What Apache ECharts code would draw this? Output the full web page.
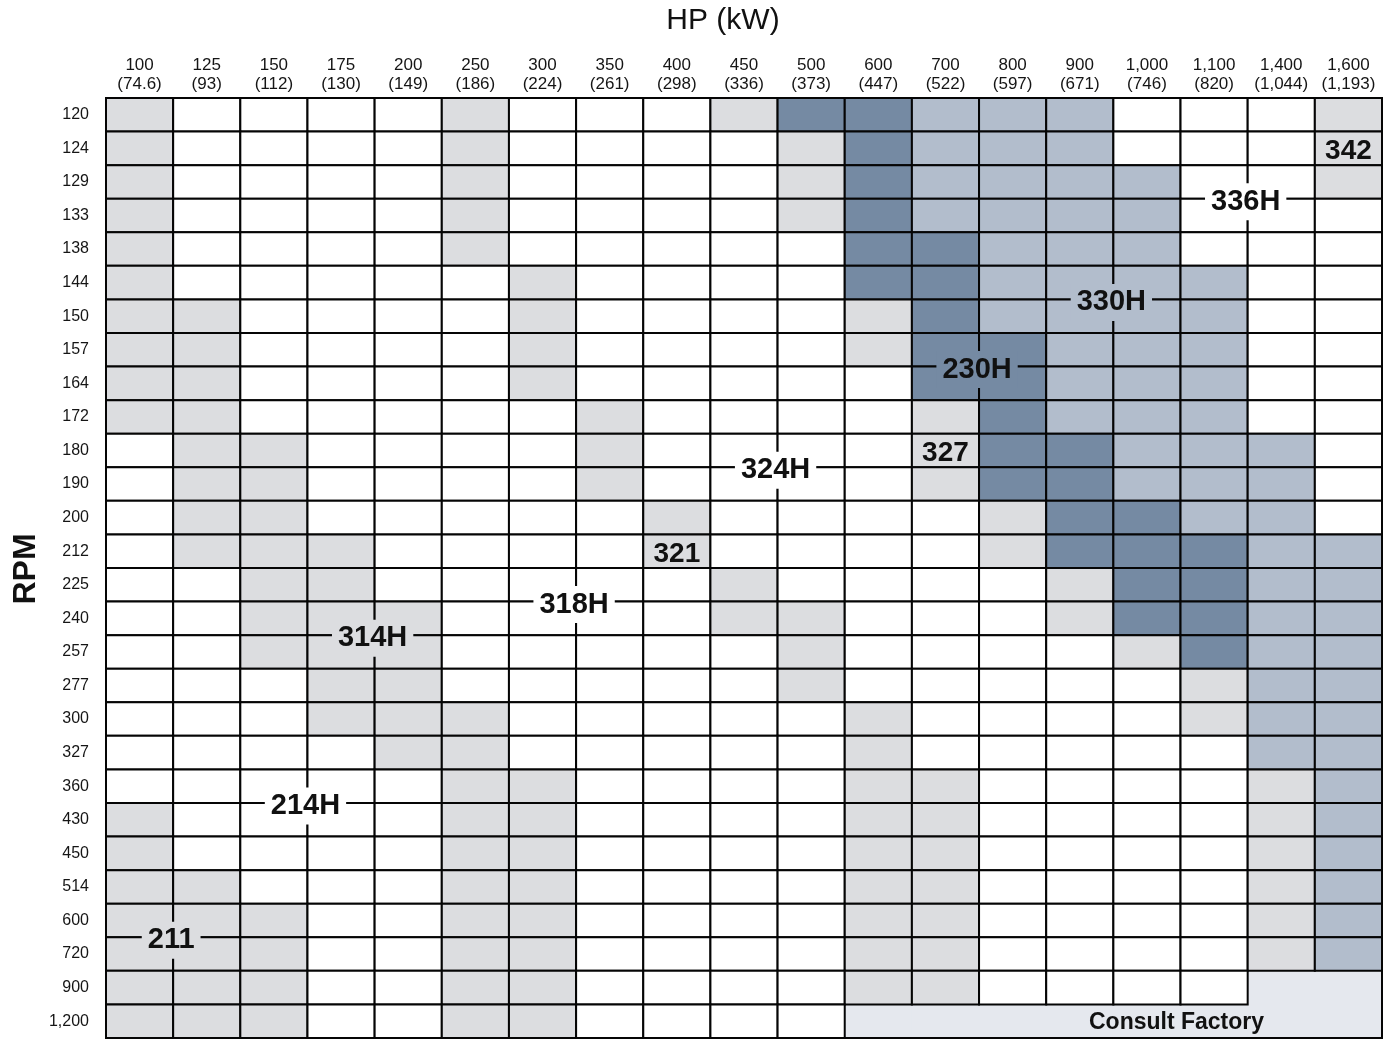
<!DOCTYPE html>
<html><head><meta charset="utf-8">
<script src="https://cdn.jsdelivr.net/npm/echarts/dist/echarts.min.js"></script>
<style>html,body{margin:0;padding:0;background:#fff}#c{width:1393px;height:1040px}</style>
</head><body><div id="c"></div>
<script>
// ---- data ----
const hpLabels = ['100','125','150','175','200','250','300','350','400','450','500','600','700','800','900','1,000','1,100','1,400','1,600'];
const kwLabels = ['74.6','93','112','130','149','186','224','261','298','336','373','447','522','597','671','746','820','1,044','1,193'];
const rpmLabels = ['120','124','129','133','138','144','150','157','164','172','180','190','200','212','225','240','257','277','300','327','360','430','450','514','600','720','900','1,200'];
// 0 = white, 1 = gray, 2 = light blue, 3 = dark blue, 4 = consult factory
const cellClass = [
  [1,0,0,0,0,1,0,0,0,1,3,3,2,2,2,0,0,0,1],
  [1,0,0,0,0,1,0,0,0,0,1,3,2,2,2,0,0,0,1],
  [1,0,0,0,0,1,0,0,0,0,1,3,2,2,2,2,0,0,1],
  [1,0,0,0,0,1,0,0,0,0,1,3,2,2,2,2,0,0,0],
  [1,0,0,0,0,1,0,0,0,0,0,3,3,2,2,2,0,0,0],
  [1,0,0,0,0,0,1,0,0,0,0,3,3,2,2,2,2,0,0],
  [1,1,0,0,0,0,1,0,0,0,0,1,3,2,2,2,2,0,0],
  [1,1,0,0,0,0,1,0,0,0,0,1,3,3,2,2,2,0,0],
  [1,1,0,0,0,0,1,0,0,0,0,0,3,3,2,2,2,0,0],
  [1,1,0,0,0,0,0,1,0,0,0,0,1,3,2,2,2,0,0],
  [0,1,1,0,0,0,0,1,0,0,0,0,1,3,3,2,2,2,0],
  [0,1,1,0,0,0,0,1,0,0,0,0,1,3,3,2,2,2,0],
  [0,1,1,0,0,0,0,0,1,0,0,0,0,1,3,3,2,2,0],
  [0,1,1,1,0,0,0,0,1,0,0,0,0,1,3,3,3,2,2],
  [0,0,1,1,0,0,0,0,0,1,0,0,0,0,1,3,3,2,2],
  [0,0,1,1,1,0,0,0,0,1,1,0,0,0,1,3,3,2,2],
  [0,0,1,1,1,0,0,0,0,0,1,0,0,0,0,1,3,2,2],
  [0,0,0,1,1,0,0,0,0,0,1,0,0,0,0,0,1,2,2],
  [0,0,0,1,1,1,0,0,0,0,0,1,0,0,0,0,1,2,2],
  [0,0,0,0,1,1,0,0,0,0,0,1,0,0,0,0,0,2,2],
  [0,0,0,0,0,1,1,0,0,0,0,1,1,0,0,0,0,1,2],
  [1,0,0,0,0,1,1,0,0,0,0,1,1,0,0,0,0,1,2],
  [1,0,0,0,0,1,1,0,0,0,0,1,1,0,0,0,0,1,2],
  [1,1,0,0,0,1,1,0,0,0,0,1,1,0,0,0,0,1,2],
  [1,1,1,0,0,1,1,0,0,0,0,1,1,0,0,0,0,1,2],
  [1,1,1,0,0,1,1,0,0,0,0,1,1,0,0,0,0,1,2],
  [1,1,1,0,0,1,1,0,0,0,0,1,1,0,0,0,0,4,4],
  [1,1,1,0,0,1,1,0,0,0,0,4,4,4,4,4,4,4,4]
];
// labels sitting on grid-line crossings: [text, column right of line, row below line]
const lineLabels = [['211',1,25],['214H',3,21],['314H',4,16],['318H',7,15],['324H',10,11],['230H',13,8],['330H',15,6],['336H',17,3]];
// labels inside a cell: [text, column, row]
const cellLabels = [['321',8,13],['327',12,10],['342',18,1]];
const noteLabels = [['Consult Factory',16,27]];

// ---- styles ----
const classColors = ['#ffffff','#dcdde0','#b2bdcc','#758aa3','#e5e8ee'];
const LINE = '#050505';
const FONT = 'Liberation Sans, Arial, sans-serif';
const nCols = hpLabels.length, nRows = rpmLabels.length;

const cellData = [];
cellClass.forEach((row, r) => row.forEach((v, c) => cellData.push([c, r, v])));

function cellRect(api, c, r) {
  const p = api.coord([c, r]);
  const s = api.size([1, 1]);
  return {x: p[0] - s[0] / 2, y: p[1] - s[1] / 2, w: s[0], h: s[1]};
}

const chart = echarts.init(document.getElementById('c'), null, {renderer: 'canvas'});
chart.setOption({
  animation: false,
  backgroundColor: '#ffffff',
  grid: {left: 106, top: 98, right: 11, bottom: 2, containLabel: false, outerBoundsMode: 'none'},
  xAxis: {
    type: 'category', position: 'top', data: hpLabels,
    axisLine: {show: false}, axisTick: {show: false}, splitLine: {show: false},
    axisLabel: {
      interval: 0, margin: 4, fontSize: 17, lineHeight: 19, color: '#151515', fontFamily: FONT,
      formatter: (v, i) => v + '\n(' + kwLabels[i] + ')'
    }
  },
  yAxis: {
    type: 'category', inverse: true, data: rpmLabels,
    axisLine: {show: false}, axisTick: {show: false}, splitLine: {show: false},
    axisLabel: {interval: 0, margin: 17, fontSize: 16, color: '#151515', fontFamily: FONT}
  },
  graphic: [
    {type: 'text', x: 723, y: 21, style: {text: 'HP (kW)', fontSize: 30, fontFamily: FONT, fill: '#111', align: 'center', verticalAlign: 'middle'}},
    {type: 'text', x: 26, y: 569, rotation: Math.PI / 2, style: {text: 'RPM', fontSize: 32, fontWeight: 'bold', fontFamily: FONT, fill: '#111', align: 'center', verticalAlign: 'middle'}}
  ],
  series: [
    {
      type: 'custom', name: 'cells', data: cellData, z: 2, clip: false,
      renderItem: function (params, api) {
        const c = api.value(0), r = api.value(1), v = api.value(2);
        const b = cellRect(api, c, r);
        if (v === 4) {
          const ch = [{type: 'rect', shape: {x: b.x - 0.6, y: b.y - 0.6, width: b.w + 1.2, height: b.h + 1.2}, style: {fill: classColors[4]}, z2: 1}];
          if (r === nRows - 1) ch.push({type: 'line', shape: {x1: b.x - 1, y1: b.y + b.h, x2: b.x + b.w + 1, y2: b.y + b.h}, style: {stroke: LINE, lineWidth: 2}, z2: 5});
          if (c === nCols - 1) ch.push({type: 'line', shape: {x1: b.x + b.w, y1: b.y - 1, x2: b.x + b.w, y2: b.y + b.h + 1}, style: {stroke: LINE, lineWidth: 2}, z2: 5});
          return {type: 'group', children: ch};
        }
        return {type: 'rect', shape: {x: b.x, y: b.y, width: b.w, height: b.h}, style: {fill: classColors[v], stroke: LINE, lineWidth: 2}, z2: 3};
      }
    },
    {
      type: 'custom', name: 'lineLabels', z: 5, clip: false,
      data: lineLabels.map(d => [d[1], d[2]]),
      renderItem: function (params, api) {
        const d = lineLabels[params.dataIndex];
        const b = cellRect(api, api.value(0), api.value(1));
        const bg = classColors[cellClass[d[2]][d[1]]];
        return {type: 'text', x: b.x - 2, y: b.y + 3, z2: 10,
          style: {text: d[0], fontSize: 29, fontWeight: 'bold', fontFamily: FONT, fill: '#111',
            align: 'center', verticalAlign: 'middle', backgroundColor: bg, padding: [5, 6, 3, 6]}};
      }
    },
    {
      type: 'custom', name: 'cellLabels', z: 5, clip: false,
      data: cellLabels.map(d => [d[1], d[2]]),
      renderItem: function (params, api) {
        const d = cellLabels[params.dataIndex];
        const p = api.coord([api.value(0), api.value(1)]);
        return {type: 'text', x: p[0], y: p[1] + 3, z2: 10,
          style: {text: d[0], fontSize: 28, fontWeight: 'bold', fontFamily: FONT, fill: '#111',
            align: 'center', verticalAlign: 'middle'}};
      }
    },
    {
      type: 'custom', name: 'notes', z: 5, clip: false,
      data: noteLabels.map(d => [d[1], d[2]]),
      renderItem: function (params, api) {
        const d = noteLabels[params.dataIndex];
        const b = cellRect(api, api.value(0), api.value(1));
        return {type: 'text', x: b.x - 4, y: b.y + b.h / 2 + 1, z2: 10,
          style: {text: d[0], fontSize: 23, fontWeight: 'bold', fontFamily: FONT, fill: '#111',
            align: 'center', verticalAlign: 'middle'}};
      }
    }
  ]
});
</script></body></html>
